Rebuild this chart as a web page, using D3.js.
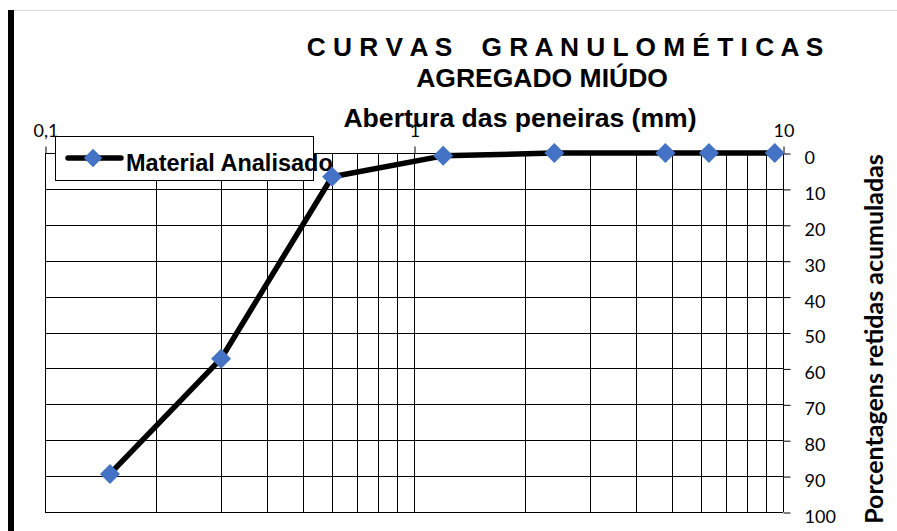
<!DOCTYPE html>
<html>
<head>
<meta charset="utf-8">
<script src="https://cdn.jsdelivr.net/npm/d3@7"></script>
<style>
  html, body { margin: 0; padding: 0; background: #fff; }
  svg { display: block; }
  text { white-space: pre; }
</style>
</head>
<body>
<svg id="chart" width="897" height="531"></svg>
<script>
// ---- data ----
const sieveSizes = [0.15, 0.3, 0.6, 1.2, 2.4, 4.8, 6.3, 9.5];   // mm
const retainedCum = [89.4, 57.3, 6.6, 0.8, 0, 0, 0, 0];         // %
const seriesName = "Material Analisado";
const xTickValues = [0.1, 1, 10];
const xTickLabels = ["0,1", "1", "10"];
const yTickValues = [0, 10, 20, 30, 40, 50, 60, 70, 80, 90, 100];
const titleLines = ["C U R V A S    G R A N U L O M É T I C A S", "AGREGADO MIÚDO"];
const xTitle = "Abertura das peneiras (mm)";
const yTitle = "Porcentagens retidas acumuladas";

// ---- layout ----
const svg = d3.select("#chart");
const L = 45, R = 783, T = 153, B = 512;
const x = d3.scaleLog().domain([0.1, 10]).range([L, R]);
const y = d3.scaleLinear().domain([0, 100]).range([T, B]);

// frame decorations
svg.append("line").attr("x1", 14).attr("x2", 897).attr("y1", 10.5).attr("y2", 10.5)
  .attr("stroke", "#d9d9d9").attr("stroke-width", 1);
svg.append("rect").attr("x", 8).attr("y", 10).attr("width", 6).attr("height", 521).attr("fill", "#000");

// grid
const minor = [];
for (let d = 0.1; d < 10; d *= 10) for (let k = 1; k <= 10; k++) minor.push(+(d * k).toPrecision(3));
const vgrid = Array.from(new Set(minor));
const g = svg.append("g").attr("shape-rendering", "crispEdges");
g.selectAll("line.v").data(vgrid).join("line")
  .attr("x1", d => Math.round(x(d)) + 0.5).attr("x2", d => Math.round(x(d)) + 0.5)
  .attr("y1", T).attr("y2", B).attr("stroke", "#000").attr("stroke-width", 1);
g.selectAll("line.h").data(yTickValues).join("line")
  .attr("x1", L).attr("x2", R)
  .attr("y1", d => Math.round(y(d)) + 0.5).attr("y2", d => Math.round(y(d)) + 0.5)
  .attr("stroke", "#000").attr("stroke-width", 1);

// top axis
const topAxis = d3.axisTop(x).tickValues(xTickValues)
  .tickFormat((d, i) => xTickLabels[i]).tickSize(7).tickPadding(10).tickSizeOuter(0);
const ta = svg.append("g").attr("transform", `translate(0.5,${T + 0.5})`).call(topAxis);
ta.select(".domain").remove();
ta.selectAll("line").attr("stroke", "#000");
ta.selectAll("text").attr("font-family", "Lato, sans-serif").attr("font-size", 18).attr("fill", "#000");

// right axis
const rightAxis = d3.axisRight(y).tickValues(yTickValues).tickSize(7).tickPadding(14).tickSizeOuter(0);
const ra = svg.append("g").attr("transform", `translate(${R + 0.5},0.5)`).call(rightAxis);
ra.select(".domain").remove();
ra.selectAll("line").attr("stroke", "#000");
ra.selectAll("text").attr("font-family", "Lato, sans-serif").attr("font-size", 18).attr("fill", "#000")
  .attr("dy", "0.55em");

// titles
const titleFont = "Liberation Sans, Arial, sans-serif";
svg.append("text").attr("x", 565).attr("y", 56).attr("text-anchor", "middle")
  .attr("font-family", titleFont).attr("font-weight", "bold")
  .attr("font-size", 26.3).text(titleLines[0]);
svg.append("text").attr("x", 542).attr("y", 87).attr("text-anchor", "middle")
  .attr("font-family", titleFont).attr("font-weight", "bold")
  .attr("font-size", 26.5).text(titleLines[1]);
svg.append("text").attr("x", 520).attr("y", 127).attr("text-anchor", "middle")
  .attr("font-family", titleFont).attr("font-weight", "bold")
  .attr("font-size", 26.6).text(xTitle);
svg.append("text").attr("transform", `translate(883,339) rotate(-90)`).attr("text-anchor", "middle")
  .attr("font-family", "Lato, sans-serif").attr("font-weight", "bold")
  .attr("font-size", 25).text(yTitle);

// legend
const leg = svg.append("g");
leg.append("rect").attr("x", 55.5).attr("y", 136.5).attr("width", 258).attr("height", 44)
  .attr("fill", "#fff").attr("stroke", "#000").attr("stroke-width", 1);
leg.append("line").attr("x1", 68).attr("x2", 121).attr("y1", 158).attr("y2", 158)
  .attr("stroke", "#000").attr("stroke-width", 5.5).attr("stroke-linecap", "round");
leg.append("path").attr("d", d3.symbol().type(d3.symbolSquare).size(170)())
  .attr("transform", "translate(93,158) rotate(45)").attr("fill", "#4472C4");
leg.append("text").attr("x", 126).attr("y", 171)
  .attr("font-family", titleFont).attr("font-weight", "bold")
  .attr("font-size", 23.5).attr("fill", "#000").text(seriesName);

// data line
const pts = sieveSizes.map((s, i) => [s, retainedCum[i]]);
svg.append("path").datum(pts)
  .attr("d", d3.line().x(d => x(d[0])).y(d => y(d[1])))
  .attr("fill", "none").attr("stroke", "#000").attr("stroke-width", 5.5).attr("stroke-linejoin", "round");
svg.selectAll("path.pt").data(pts).join("path").attr("class", "pt")
  .attr("d", d3.symbol().type(d3.symbolSquare).size(200)())
  .attr("transform", d => `translate(${x(d[0])},${y(d[1])}) rotate(45)`)
  .attr("fill", "#4472C4");
</script>
</body>
</html>
